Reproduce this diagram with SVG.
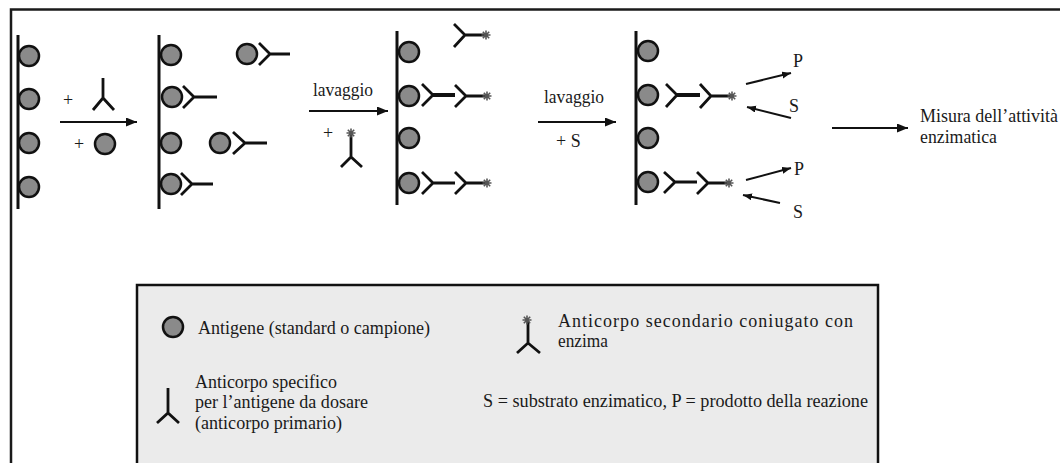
<svg xmlns="http://www.w3.org/2000/svg" width="1060" height="463" viewBox="0 0 1060 463">
<style>
.frame{fill:none;stroke:#1a1a1a;stroke-width:2.5}
.wall{stroke:#111;stroke-width:3;fill:none}
.ag{fill:#8a8a8a;stroke:#111;stroke-width:2.5}
.ab{fill:none;stroke:#111;stroke-width:2.8;stroke-linejoin:miter}
.abt{fill:none;stroke:#111;stroke-width:4}
.st{stroke:#555;stroke-width:1.6}
.arr{fill:none;stroke:#111;stroke-width:2.2}
.arrs{fill:none;stroke:#111;stroke-width:2}
.t{font-family:"Liberation Serif","Times New Roman",serif;font-size:18px;fill:#1a1a1a}
.legend{fill:#ebebeb;stroke:#111;stroke-width:2.5}
</style>
<defs>
<marker id="ah" markerUnits="userSpaceOnUse" markerWidth="12" markerHeight="10" refX="11" refY="4.5" orient="auto">
<path d="M0,0 L11,4.5 L0,9 z" fill="#111"/>
</marker>
<marker id="ahs" markerUnits="userSpaceOnUse" markerWidth="10" markerHeight="8" refX="9" refY="3.5" orient="auto">
<path d="M0,0 L9,3.5 L0,7 z" fill="#111"/>
</marker>
<g id="star">
<path class="st" d="M-4.5,0 H4.5 M0,-4.5 V4.5 M-3.2,-3.2 L3.2,3.2 M-3.2,3.2 L3.2,-3.2"/>
</g>
</defs>

<path class="frame" d="M11,463 V9.5 H1060"/>

<g id="panel1">
<line class="wall" x1="18" y1="35" x2="18" y2="209"/>
<circle class="ag" cx="29" cy="56" r="10"/>
<circle class="ag" cx="29" cy="99" r="10"/>
<circle class="ag" cx="29" cy="143" r="10"/>
<circle class="ag" cx="29" cy="187" r="10"/>
</g>

<g id="step1">
<text class="t" x="63" y="106">+</text>
<path class="ab" d="M103,78 V98 M93,110 L103,98 L114,110"/>
<text class="t" x="74" y="150">+</text>
<circle class="ag" cx="105" cy="144" r="10"/>
</g>

<g id="panel2">
<line class="wall" x1="159" y1="35" x2="159" y2="209"/>
<circle class="ag" cx="171" cy="55" r="10"/>
<circle class="ag" cx="172" cy="97" r="10"/>
<circle class="ag" cx="171" cy="143" r="10"/>
<circle class="ag" cx="171" cy="184" r="10"/>
<path class="ab" d="M183,86 L194,97 L183,108 M194,97 H217"/>
<path class="ab" d="M181,173 L192,184 L181,195 M192,184 H213"/>
<circle class="ag" cx="247" cy="54" r="10"/>
<path class="ab" d="M259,43 L270,54 L259,65 M270,54 H290"/>
<circle class="ag" cx="220" cy="143" r="10"/>
<path class="ab" d="M233,132 L245,143 L233,154 M245,143 H267"/>
</g>

<g id="step2">
<text class="t" x="313" y="96" textLength="60" lengthAdjust="spacingAndGlyphs">lavaggio</text>
<text class="t" x="323" y="139">+</text>
<path class="ab" d="M351,134 V157 M341,167 L351,157 L362,167"/>
<use href="#star" x="351" y="133"/>
</g>

<g id="panel3">
<line class="wall" x1="397" y1="31" x2="397" y2="205"/>
<circle class="ag" cx="409" cy="52" r="10"/>
<circle class="ag" cx="409" cy="96" r="10"/>
<circle class="ag" cx="409" cy="138" r="10"/>
<circle class="ag" cx="409" cy="183" r="10"/>
<path class="ab" d="M454,24 L465,35 L454,47 M465,35 H485"/>
<use href="#star" x="486" y="35"/>
<path class="ab" d="M422,84 L433,95 L422,106"/>
<path class="abt" d="M433,95 H455"/>
<path class="ab" d="M455,85 L466,96 L455,107 M466,96 H486"/>
<use href="#star" x="487" y="96"/>
<path class="ab" d="M422,172 L433,183 L422,194 M433,183 H455"/>
<path class="ab" d="M455,172 L466,183 L455,194 M466,183 H486"/>
<use href="#star" x="487" y="183"/>
</g>

<g id="step3">
<text class="t" x="544" y="103" textLength="60" lengthAdjust="spacingAndGlyphs">lavaggio</text>
<text class="t" x="556" y="147">+ S</text>
</g>

<g id="panel4">
<line class="wall" x1="636" y1="31" x2="636" y2="205"/>
<circle class="ag" cx="648" cy="51" r="10"/>
<circle class="ag" cx="648" cy="95" r="10"/>
<circle class="ag" cx="648" cy="138" r="10"/>
<circle class="ag" cx="648" cy="182" r="10"/>
<path class="ab" d="M666,84 L677,95 L666,107"/>
<path class="abt" d="M677,95 H700"/>
<path class="ab" d="M700,84 L711,96 L700,108 M711,96 H731"/>
<use href="#star" x="732" y="96"/>
<path class="ab" d="M664,172 L675,182 L664,193 M675,182 H697"/>
<path class="ab" d="M697,172 L708,183 L697,194 M708,183 H727"/>
<use href="#star" x="729" y="183"/>
<text class="t" x="793" y="67">P</text>
<text class="t" x="789" y="112">S</text>
<text class="t" x="794" y="175">P</text>
<text class="t" x="793" y="218">S</text>
</g>

<g id="result">
<text class="t" x="920" y="122" textLength="138" lengthAdjust="spacingAndGlyphs">Misura dell’attività</text>
<text class="t" x="920" y="143" textLength="77" lengthAdjust="spacingAndGlyphs">enzimatica</text>
</g>

<g id="connectors">
<line class="arr" x1="60" y1="122" x2="137" y2="122" marker-end="url(#ah)"/>
<line class="arr" x1="309" y1="111" x2="388" y2="111" marker-end="url(#ah)"/>
<line class="arr" x1="538" y1="122" x2="616" y2="122" marker-end="url(#ah)"/>
<line class="arrs" x1="746" y1="84" x2="791" y2="73" marker-end="url(#ahs)"/>
<line class="arrs" x1="791" y1="118" x2="747" y2="107" marker-end="url(#ahs)"/>
<line class="arrs" x1="746" y1="180" x2="791" y2="168" marker-end="url(#ahs)"/>
<line class="arrs" x1="780" y1="203" x2="743" y2="195" marker-end="url(#ahs)"/>
<line class="arr" x1="832" y1="128" x2="908" y2="128" marker-end="url(#ah)"/>
</g>

<g id="legend">
<rect class="legend" x="137" y="285" width="741" height="190"/>
<circle class="ag" cx="173" cy="327" r="10"/>
<text class="t" x="198" y="334" textLength="232" lengthAdjust="spacingAndGlyphs">Antigene (standard o campione)</text>
<path class="ab" d="M168,388 V413 M157,423 L168,413 L179,423"/>
<text class="t" x="195" y="388" textLength="142" lengthAdjust="spacingAndGlyphs">Anticorpo specifico</text>
<text class="t" x="195" y="408" textLength="173" lengthAdjust="spacingAndGlyphs">per l’antigene da dosare</text>
<text class="t" x="195" y="429" textLength="147" lengthAdjust="spacingAndGlyphs">(anticorpo primario)</text>
<path class="ab" d="M528,321 V343 M517,353 L528,343 L540,353"/>
<use href="#star" x="527" y="320"/>
<text class="t" x="558" y="327" textLength="295" lengthAdjust="spacing">Anticorpo secondario coniugato con</text>
<text class="t" x="558" y="347" textLength="50" lengthAdjust="spacingAndGlyphs">enzima</text>
<text class="t" x="483" y="407" textLength="385" lengthAdjust="spacingAndGlyphs">S = substrato enzimatico, P = prodotto della reazione</text>
</g>
</svg>
